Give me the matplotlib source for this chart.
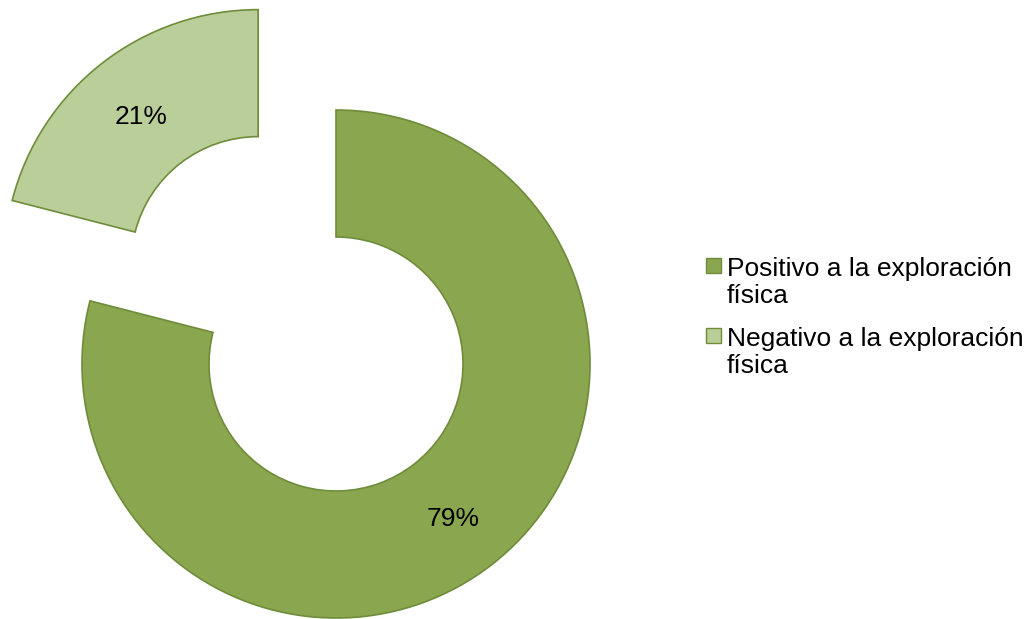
import matplotlib
matplotlib.use("Agg")
import matplotlib.pyplot as plt
from matplotlib.patches import Rectangle

plt.rcParams['font.family'] = ['Liberation Sans', 'DejaVu Sans']

# Resultados de la exploración física
labels = ["Positivo a la exploración\nfísica", "Negativo a la exploración\nfísica"]
values = [79, 21]
colors = ["#8AA64F", "#BACE99"]
edge = "#6F8C3A"

W, H = 1027, 619
fig = plt.figure(figsize=(W / 100, H / 100), dpi=100)
ax = fig.add_axes([0, 0, 1, 1])

wedges, texts, autotexts = ax.pie(
    values, colors=colors, startangle=90, counterclock=False,
    explode=[0, 0.5], autopct='%1.0f%%', pctdistance=0.75,
    wedgeprops=dict(width=0.5, edgecolor=edge, linewidth=1.2),
    textprops=dict(fontsize=19, color="black"))

# escala: 1 unidad = 254 px, centro en (336, 364) px desde arriba
px = 254.0
cx, cy = 336, H - 364
ax.set_xlim(-cx / px, (W - cx) / px)
ax.set_ylim(-cy / px, (H - cy) / px)
ax.set_aspect('auto')
ax.axis('off')

# bajar un poco los porcentajes (centrado visual de las cifras)
for t in autotexts:
    x, y = t.get_position()
    t.set_position((x, y - 4 / px))

# leyenda a la derecha
for i, (lab, col) in enumerate(zip(labels, colors)):
    dy = i * 70
    fig.patches.append(Rectangle((706 / W, 1 - (273 + dy) / H), 15 / W, 15 / H,
                                 transform=fig.transFigure, facecolor=col,
                                 edgecolor=edge, linewidth=1))
    fig.text(727 / W, 1 - (303 + dy) / H, lab, fontsize=19, va='baseline',
             ha='left', linespacing=1.17)

fig.savefig("out.png", dpi=100)
